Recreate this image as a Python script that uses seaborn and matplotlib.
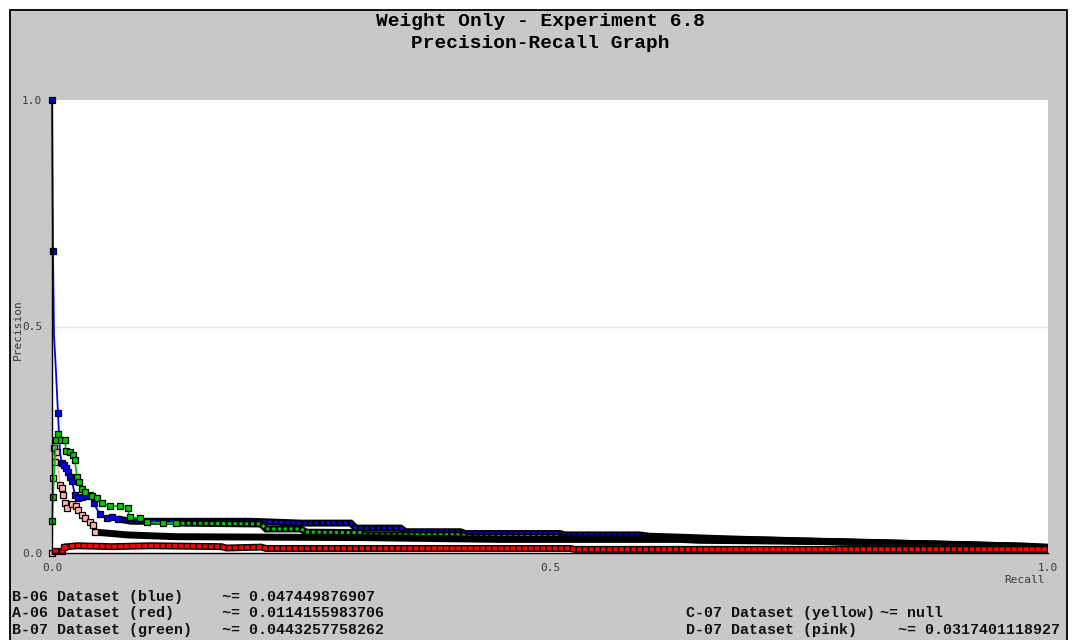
import matplotlib
matplotlib.use("Agg")
import matplotlib.pyplot as plt
import seaborn as sns
from matplotlib.patches import Rectangle

# ---------------- data ----------------
title_lines = ["Weight Only - Experiment 6.8", "Precision-Recall Graph"]

# B-06 (blue)
blue_head_r = [0.000, 0.001, 0.002, 0.004, 0.006, 0.008, 0.010, 0.012, 0.014, 0.016, 0.018,
               0.020, 0.023, 0.026, 0.030, 0.034, 0.038, 0.042, 0.048, 0.055, 0.060, 0.066]
blue_head_p = [1.000, 0.667, 0.480, 0.400, 0.309, 0.220, 0.199, 0.194, 0.188, 0.178, 0.168,
               0.160, 0.128, 0.122, 0.124, 0.126, 0.128, 0.110, 0.085, 0.078, 0.080, 0.075]
blue_tail_r = [0.066, 0.080, 0.200, 0.250, 0.300, 0.305, 0.350, 0.355, 0.410, 0.415, 0.510,
               0.515, 0.590, 0.600, 0.630, 0.680, 0.750, 0.830, 0.900, 0.960, 1.000]
blue_tail_p = [0.075, 0.070, 0.070, 0.066, 0.066, 0.055, 0.055, 0.047, 0.047, 0.043, 0.043,
               0.040, 0.040, 0.037, 0.035, 0.031, 0.027, 0.023, 0.019, 0.016, 0.013]

# A-06 (red)
red_head_r = [0.003, 0.010, 0.012]
red_head_p = [0.004, 0.005, 0.013]
red_tail_r = [0.012, 0.025, 0.060, 0.100, 0.170, 0.175, 0.210, 0.215, 0.520, 0.525, 1.000]
red_tail_p = [0.013, 0.016, 0.014, 0.016, 0.014, 0.011, 0.013, 0.010, 0.010, 0.008, 0.008]

# B-07 (green)
green_head_r = [0.000, 0.001, 0.004, 0.006, 0.009, 0.013, 0.014, 0.018, 0.021, 0.023, 0.025,
                0.027, 0.030, 0.033, 0.040, 0.045, 0.050, 0.058, 0.068, 0.076, 0.078, 0.088,
                0.095, 0.111, 0.124]
green_head_p = [0.070, 0.124, 0.249, 0.263, 0.249, 0.249, 0.225, 0.223, 0.216, 0.205, 0.168,
                0.157, 0.141, 0.135, 0.126, 0.122, 0.110, 0.104, 0.104, 0.099, 0.079, 0.077,
                0.068, 0.066, 0.066]
green_tail_r = [0.124, 0.210, 0.215, 0.250, 0.255, 0.310, 0.315, 0.410, 0.420, 0.510, 0.515,
                0.610, 0.690, 0.780, 0.860, 0.930, 1.000]
green_tail_p = [0.066, 0.064, 0.053, 0.053, 0.046, 0.045, 0.040, 0.040, 0.036, 0.036, 0.032,
                0.032, 0.030, 0.025, 0.021, 0.017, 0.012]

# D-07 (pink)
pink_head_r = [0.000, 0.001, 0.002, 0.003, 0.005, 0.008, 0.010, 0.011, 0.013, 0.015, 0.020,
               0.024, 0.026, 0.030, 0.033, 0.038, 0.041, 0.043]
pink_head_p = [0.000, 0.165, 0.232, 0.200, 0.222, 0.150, 0.143, 0.128, 0.110, 0.099, 0.108,
               0.104, 0.095, 0.084, 0.077, 0.068, 0.062, 0.046]
pink_tail_r = [0.043, 0.060, 0.075, 0.124, 0.310, 0.450, 0.550, 0.630, 0.650, 0.700, 0.780,
               0.850, 0.910, 0.940, 0.980, 1.000]
pink_tail_p = [0.046, 0.043, 0.040, 0.036, 0.034, 0.030, 0.030, 0.030, 0.028, 0.027, 0.025,
               0.021, 0.019, 0.017, 0.015, 0.011]

legend_left = [("B-06 Dataset (blue)", "~= 0.047449876907"),
               ("A-06 Dataset (red)", "~= 0.0114155983706"),
               ("B-07 Dataset (green)", "~= 0.0443257758262")]
legend_right = [("C-07 Dataset (yellow)", "~= null"),
                ("D-07 Dataset (pink)", "~= 0.0317401118927")]

x_ticks = [0.0, 0.5, 1.0]
y_ticks = [0.0, 0.5, 1.0]
tick_labels = ["0.0", "0.5", "1.0"]

BLUE, RED, GREEN, PINK = "#0000ff", "#ff0000", "#00c800", "#ffb4b4"

# ---------------- figure ----------------
sns.set_theme(style="white")
plt.rcParams["font.family"] = ["DejaVu Sans"]

W, H = 1074, 640
fig = plt.figure(figsize=(W / 100, H / 100), dpi=100)
fig.patch.set_facecolor("white")
fig.patches.append(Rectangle((9.5 / W, -0.02), (1067 - 9.5) / W, (630.5 / H) + 0.02,
                             transform=fig.transFigure, facecolor="#c8c8c8",
                             edgecolor="black", lw=1.3, zorder=-10))

ax = fig.add_axes([52 / W, 87 / H, 996 / W, 453 / H])
ax.set_facecolor("white")
ax.set_xlim(0, 1)
ax.set_ylim(0, 1)
ax.axhline(0.5, color="#e4e4e4", lw=1.0, zorder=0)


def band(r, p, color, lw_in, pattern, z):
    sns.lineplot(x=r, y=p, ax=ax, color="black", lw=5.0, sort=False, estimator=None,
                 solid_capstyle="butt", solid_joinstyle="miter", zorder=z)
    if color is not None:
        sns.lineplot(x=r, y=p, ax=ax, color=color, lw=lw_in, sort=False, estimator=None,
                     linestyle=(0, pattern), dash_capstyle="butt", zorder=z + 0.1)


def head(r, p, color, z, skip=()):
    idx = [i for i in range(len(r)) if i not in skip]
    sns.lineplot(x=r, y=p, ax=ax, color=color, lw=1.3, sort=False, estimator=None,
                 marker="s", markersize=4.6, markeredgecolor="black", markeredgewidth=0.9,
                 markerfacecolor=color, markevery=idx, clip_on=False, zorder=z)


band(blue_tail_r, blue_tail_p, BLUE, 2.2, (1.0, 0.9), 3)
band(green_tail_r, green_tail_p, GREEN, 2.2, (1.0, 0.9), 3.3)
band(pink_tail_r, pink_tail_p, None, 0, None, 3.6)
band(red_tail_r, red_tail_p, RED, 3.0, (1.1, 0.35), 4)

head(pink_head_r, pink_head_p, PINK, 5)
head(blue_head_r, blue_head_p, BLUE, 5.2, skip=(2, 3, 5))
head(green_head_r, green_head_p, GREEN, 5.4)
head(red_head_r, red_head_p, RED, 5.6)

# axes styling
for s in ["top", "right"]:
    ax.spines[s].set_visible(False)
for s in ["left", "bottom"]:
    ax.spines[s].set_color("black")
    ax.spines[s].set_linewidth(1.0)
    ax.spines[s].set_zorder(6)

ax.set_xticks(x_ticks)
ax.set_xticklabels(tick_labels)
ax.set_yticks(y_ticks)
ax.set_yticklabels(tick_labels)
ax.set_xticks([i / 10 for i in range(11)], minor=True)
ax.set_yticks([i / 10 for i in range(11)], minor=True)
ax.tick_params(which="both", direction="in", color="black", width=1.0)
ax.tick_params(which="major", length=4, labelsize=8, labelcolor="#3a3a3a")
ax.tick_params(which="minor", length=3)
ax.tick_params(axis="x", which="major", pad=7)
ax.tick_params(axis="y", which="major", pad=7)
for lab in ax.get_xticklabels() + ax.get_yticklabels():
    lab.set_fontfamily("DejaVu Sans Mono")
ax.set_xlabel("")
ax.set_ylabel("")
ax.grid(False)

fig.text(18 / W, 1 - 330 / H, "Precision", rotation=90, ha="center", va="center",
         fontsize=8, color="#3a3a3a", family="DejaVu Sans Mono")
fig.text(1045 / W, 1 - 580 / H, "Recall", ha="right", va="center",
         fontsize=8, color="#3a3a3a", family="DejaVu Sans Mono")

for i, t in enumerate(title_lines):
    fig.text(540 / W, 1 - (22 + 22 * i) / H, t, ha="center", va="center",
             fontsize=14, fontweight="bold", family="Liberation Mono", color="black")

FS = 10.8
rows_y = [597, 613, 630]
for (lab, val), y in zip(legend_left, rows_y):
    fig.text(12 / W, 1 - y / H, lab, ha="left", va="center", fontsize=FS,
             fontweight="bold", family="Liberation Mono", color="#111111")
    fig.text(222 / W, 1 - y / H, val, ha="left", va="center", fontsize=FS,
             fontweight="bold", family="Liberation Mono", color="#111111")
right_val_x = [880, 898]
for (lab, val), y, vx in zip(legend_right, rows_y[1:], right_val_x):
    fig.text(686 / W, 1 - y / H, lab, ha="left", va="center", fontsize=FS,
             fontweight="bold", family="Liberation Mono", color="#111111")
    fig.text(vx / W, 1 - y / H, val, ha="left", va="center", fontsize=FS,
             fontweight="bold", family="Liberation Mono", color="#111111")

fig.savefig("out.png", dpi=100, facecolor=fig.get_facecolor())
